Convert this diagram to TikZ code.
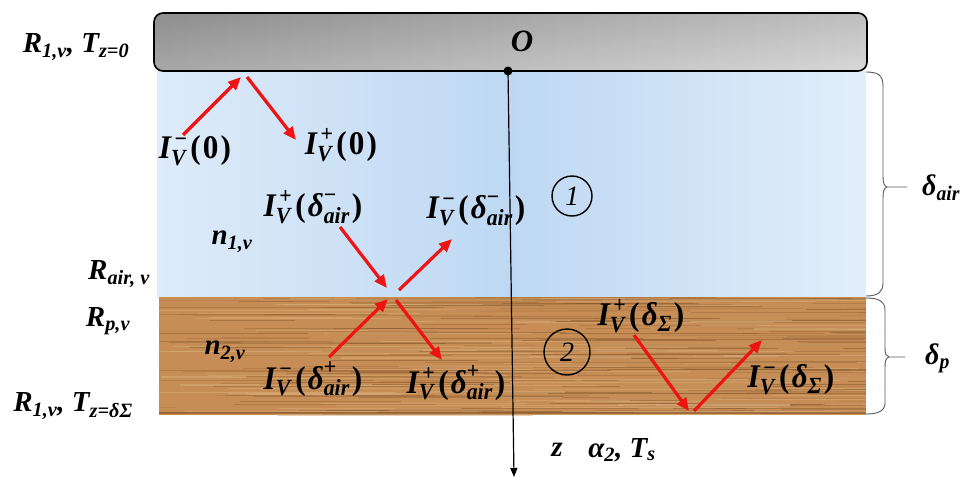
\documentclass[tikz,border=0pt]{standalone}
\usepackage{amsmath}
\usepackage{graphicx}
\usepackage[no-math]{fontspec}
\setmainfont{Liberation Serif}
\usetikzlibrary{arrows.meta}
\definecolor{barL}{RGB}{158,158,158}
\definecolor{barR}{RGB}{212,212,212}
\definecolor{airL}{RGB}{222,235,249}
\definecolor{airM}{RGB}{190,216,243}
\definecolor{airR}{RGB}{226,238,250}
\definecolor{woodB}{RGB}{198,142,86}
\definecolor{woodD}{RGB}{135,88,45}
\definecolor{woodL}{RGB}{216,172,122}
\definecolor{rayred}{RGB}{238,20,20}
\newcommand{\bi}[1]{\text{\bfseries\itshape #1}}
\newcommand{\bu}[1]{\text{\bfseries #1}}
\newcommand{\mlab}[1]{\scalebox{1.04}[1.1]{$#1$}}
\newcommand{\IV}[1]{\bi{I}_{\bi{V}}^{\mkern3mu\bu{#1}}\mkern2mu}
\newcommand{\pa}[1]{\bu{(}\mkern1.5mu#1\mkern1.5mu\bu{)}}
\begin{document}
\begin{tikzpicture}[x=1pt,y=-1pt,
  txt/.style={font=\fontsize{29}{32}\selectfont\bfseries\itshape, inner sep=0pt},
  mth/.style={font=\fontsize{30}{32}\selectfont, inner sep=0pt},
  dlt/.style={font=\fontsize{27}{30}\selectfont, inner sep=0pt},
  ray/.style={rayred, line width=3.2pt, -{Triangle[length=13pt,width=11pt]}},
  brc/.style={draw=black!65, line width=0.9pt},
  num/.style={draw=black, line width=1.4pt, circle, minimum size=#1, inner sep=0pt, font=\fontsize{28}{30}\selectfont\itshape}
]
\useasboundingbox (0,0) rectangle (963,479);
% air layer
\shade[left color=airL, right color=airR, middle color=airM] (157,71) rectangle (866,297);
% wood layer
\fill[woodB] (159,297) rectangle (866,415);
\begin{scope}
  \clip (159,297) rectangle (866,415);
  \pgfmathsetseed{12}
  \foreach \k in {1,...,200}{
    \pgfmathsetmacro\yy{297+118*rnd}
    \pgfmathsetmacro\xa{100+760*rnd}
    \pgfmathsetmacro\xb{\xa+60+260*rnd}
    \pgfmathsetmacro\op{0.15+0.4*rnd}
    \draw[woodD, opacity=\op, line width=0.8pt] (\xa,\yy) -- (\xb,\yy);
  }
  \foreach \k in {1,...,90}{
    \pgfmathsetmacro\yy{297+118*rnd}
    \pgfmathsetmacro\xa{100+760*rnd}
    \pgfmathsetmacro\xb{\xa+60+260*rnd}
    \draw[woodL, opacity=0.55, line width=1.2pt] (\xa,\yy) -- (\xb,\yy);
  }
  \draw[woodD, opacity=0.6, line width=1.4pt] (159,413) -- (866,413);
\end{scope}
% top plate
\shade[left color=barL, right color=barR, rounded corners=9pt] (154,13) rectangle (867,71);
\shade[top color=black, bottom color=white, opacity=0.1, rounded corners=9pt] (154,13) rectangle (867,71);
\draw[line width=1.6pt, rounded corners=9pt] (154,13) rectangle (867,71);
\node[txt, font=\fontsize{31}{32}\selectfont\bfseries\itshape] (lO) at (522,41) {O};
% z axis
\coordinate (O) at (508,71);
\coordinate (zend) at (514,477);
\draw[line width=1.2pt, -{Triangle[length=9pt,width=7pt]}] (O) -- (zend);
\fill (O) circle (4.5pt);
% ray end points
\coordinate (a1s) at (183,135); \coordinate (a1t) at (241,77);
\coordinate (a2s) at (247,77);  \coordinate (a2t) at (296,140);
\coordinate (b1s) at (340,227); \coordinate (b1t) at (387,288);
\coordinate (b2s) at (399,290); \coordinate (b2t) at (452,239);
\coordinate (c1s) at (329,357); \coordinate (c1t) at (388,299);
\coordinate (c2s) at (396,300); \coordinate (c2t) at (442,360);
\coordinate (d1s) at (634,335); \coordinate (d1t) at (689,411);
\coordinate (d2s) at (694,411); \coordinate (d2t) at (762,340);
\foreach \s/\t in {a1s/a1t,a2s/a2t,b1s/b1t,b2s/b2t,c1s/c1t,c2s/c2t,d1s/d1t,d2s/d2t}
  \draw[ray] (\s) -- (\t);
% labels
\node[txt] (lR1) at (76,47) {R\textsubscript{1,v}, T\textsubscript{z=0}};
\node[mth] (lI0m) at (195,151) {\mlab{\IV{−}\pa{\bu{0}}}};
\node[mth] (lI0p) at (341,145) {\mlab{\IV{+}\pa{\bu{0}}}};
\node[mth] (lIamP) at (313,207) {\mlab{\IV{+}\pa{\bi{δ}_{\bi{air}}^{\bu{−}}}}};
\node[mth] (lIamM) at (476,211) {\mlab{\IV{−}\pa{\bi{δ}_{\bi{air}}^{\bu{−}}}}};
\node[num=40pt] (c1) at (572,196) {1};
\node[txt] (ln1) at (232,242) {n\textsubscript{1,v}};
\node[txt] (lRair) at (119,274) {R\textsubscript{air, v}};
\node[txt] (lRp) at (108,321) {R\textsubscript{p,v}};
\node[txt] (ln2) at (225,352) {n\textsubscript{2,v}};
\node[mth] (lIapM) at (313,379) {\mlab{\IV{−}\pa{\bi{δ}_{\bi{air}}^{\bu{+}}}}};
\node[mth] (lIapP) at (456,383) {\mlab{\IV{+}\pa{\bi{δ}_{\bi{air}}^{\bu{+}}}}};
\node[mth] (lIsP) at (641,316) {\mlab{\IV{+}\pa{\bi{δ}_{\bi{Σ}}}}};
\node[mth] (lIsM) at (791,380) {\mlab{\IV{−}\pa{\bi{δ}_{\bi{Σ}}}}};
\node[num=46pt] (c2) at (567,352) {2};
\node[txt] (lR1b) at (73,406) {R\textsubscript{1,v}, T\textsubscript{z=δΣ}};
\node[txt] (lz) at (557,450) {z};
\node[txt] (lal) at (622,450) {α\textsubscript{2}, T\textsubscript{s}};
\node[dlt, anchor=west] (ldair) at (922,188) {\mlab{\bi{δ}_{\bi{air}}}};
\node[dlt, anchor=west] (ldp) at (925,358) {\mlab{\bi{δ}_{\bi{p}}}};
% braces
\draw[brc] (866,72) .. controls (878,72) and (883,75) .. (883,86) -- (883,176)
  .. controls (883,183) and (884,186) .. (887,187) -- (907,187);
\draw[brc] (887,187) .. controls (884,188) and (883,191) .. (883,198) -- (883,283)
  .. controls (883,292) and (878,296) .. (866,296);
\draw[brc] (866,298) .. controls (878,298) and (885,301) .. (885,310) -- (885,348)
  .. controls (885,354) and (886,356) .. (889,357) -- (905,357);
\draw[brc] (889,357) .. controls (886,358) and (885,361) .. (885,367) -- (885,403)
  .. controls (885,411) and (878,414) .. (866,414);
\end{tikzpicture}
\end{document}
